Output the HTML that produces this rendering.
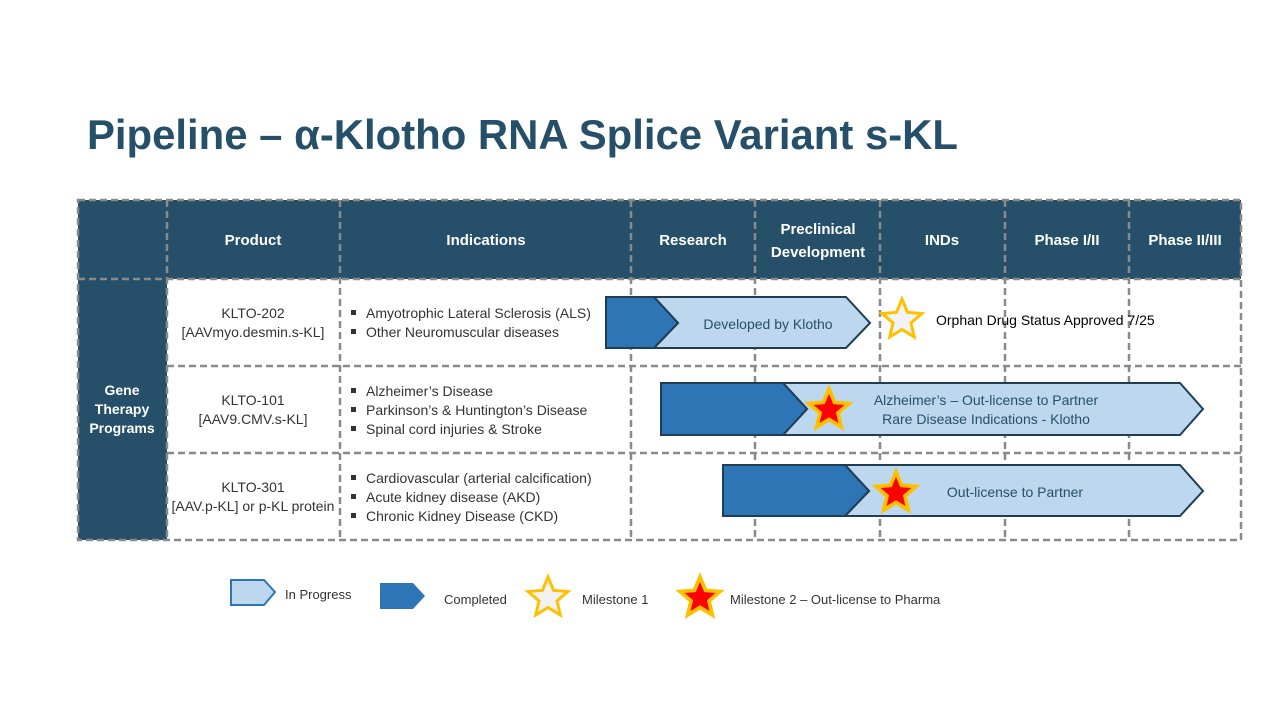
<!DOCTYPE html>
<html><head><meta charset="utf-8"><style>
html,body{margin:0;padding:0;background:#fff;}
svg{display:block;font-family:"Liberation Sans",sans-serif;}
</style></head><body>
<svg width="1280" height="720" viewBox="0 0 1280 720">
<defs>
<polygon id="st" points="0,-1 0.2645,-0.364 0.951,-0.309 0.428,0.139 0.588,0.809 0,0.45 -0.588,0.809 -0.428,0.139 -0.951,-0.309 -0.2645,-0.364"/>
</defs>
<text x="87" y="149" font-size="42" font-weight="bold" fill="#264f6a" textLength="871" lengthAdjust="spacingAndGlyphs">Pipeline – α-Klotho RNA Splice Variant s-KL</text>
<rect x="78" y="200" width="1163" height="79" fill="#264f6a"/>
<rect x="78" y="279" width="89" height="261" fill="#264f6a"/>
<g fill="#fff" font-weight="bold" font-size="15" text-anchor="middle">
<text x="253" y="245">Product</text>
<text x="486" y="245">Indications</text>
<text x="693" y="245">Research</text>
<text x="818" y="234">Preclinical</text>
<text x="818" y="257">Development</text>
<text x="942" y="245">INDs</text>
<text x="1067" y="245">Phase I/II</text>
<text x="1185" y="245">Phase II/III</text>
<text x="122" y="395" font-size="14">Gene</text>
<text x="122" y="414" font-size="14">Therapy</text>
<text x="122" y="433" font-size="14">Programs</text>
</g>
<g stroke="#8a8a8a" stroke-width="2.5" stroke-dasharray="7,4" fill="none">
<rect x="78" y="200" width="1163" height="340"/>
<line x1="78" y1="279" x2="1241" y2="279"/>
<line x1="167" y1="366" x2="1241" y2="366"/>
<line x1="167" y1="453" x2="1241" y2="453"/>
<line x1="167" y1="200" x2="167" y2="540"/>
<line x1="340" y1="200" x2="340" y2="540"/>
<line x1="631" y1="200" x2="631" y2="540"/>
<line x1="755" y1="200" x2="755" y2="540"/>
<line x1="880" y1="200" x2="880" y2="540"/>
<line x1="1005" y1="200" x2="1005" y2="540"/>
<line x1="1129" y1="200" x2="1129" y2="540"/>
</g>
<g font-size="14" fill="#333" text-anchor="middle">
<text x="253" y="318">KLTO-202</text>
<text x="253" y="337">[AAVmyo.desmin.s-KL]</text>
<text x="253" y="405">KLTO-101</text>
<text x="253" y="424">[AAV9.CMV.s-KL]</text>
<text x="253" y="492">KLTO-301</text>
<text x="253" y="511">[AAV.p-KL] or p-KL protein</text>
</g>
<g font-size="14" fill="#333">
<text x="366" y="318">Amyotrophic Lateral Sclerosis (ALS)</text>
<text x="366" y="337">Other Neuromuscular diseases</text>
<text x="366" y="396">Alzheimer’s Disease</text>
<text x="366" y="415">Parkinson’s &amp; Huntington’s Disease</text>
<text x="366" y="434">Spinal cord injuries &amp; Stroke</text>
<text x="366" y="483">Cardiovascular (arterial calcification)</text>
<text x="366" y="502">Acute kidney disease (AKD)</text>
<text x="366" y="521">Chronic Kidney Disease (CKD)</text>
</g>
<g fill="#333">
<rect x="351" y="310" width="5" height="5"/><rect x="351" y="329" width="5" height="5"/>
<rect x="351" y="388" width="5" height="5"/><rect x="351" y="407" width="5" height="5"/><rect x="351" y="426" width="5" height="5"/>
<rect x="351" y="475" width="5" height="5"/><rect x="351" y="494" width="5" height="5"/><rect x="351" y="513" width="5" height="5"/>
</g>
<g stroke="#1f3d55" stroke-width="2" stroke-linejoin="miter">
<polygon points="654,297 846,297 870,323 846,348 654,348 678,323" fill="#bdd7ee"/>
<polygon points="606,297 654,297 678,323 654,348 606,348" fill="#2e75b6"/>
<polygon points="783,383 1180,383 1203,409 1180,435 783,435 807,409" fill="#bdd7ee"/>
<polygon points="661,383 783,383 807,409 783,435 661,435" fill="#2e75b6"/>
<polygon points="845,465 1180,465 1203,491 1180,516 845,516 869,491" fill="#bdd7ee"/>
<polygon points="723,465 845,465 869,491 845,516 723,516" fill="#2e75b6"/>
</g>
<g font-size="14" fill="#264f6a" text-anchor="middle">
<text x="768" y="329">Developed by Klotho</text>
<text x="986" y="405">Alzheimer’s – Out-license to Partner</text>
<text x="986" y="424">Rare Disease Indications - Klotho</text>
<text x="1015" y="497">Out-license to Partner</text>
</g>
<text x="936" y="325" font-size="14" fill="#000">Orphan Drug Status Approved 7/25</text>
<use href="#st" transform="translate(902,320) scale(21)" fill="#f2f2f2" stroke="#ffc000" stroke-width="0.14"/>
<use href="#st" transform="translate(829,410) scale(21)" fill="#ff0000" stroke="#ffc000" stroke-width="0.18"/>
<use href="#st" transform="translate(896,493) scale(21)" fill="#ff0000" stroke="#ffc000" stroke-width="0.18"/>
<polygon points="231,580 264,580 275,592 264,605 231,605" fill="#bdd7ee" stroke="#2e75b6" stroke-width="2"/>
<text x="285" y="599" font-size="13" fill="#333">In Progress</text>
<polygon points="380,583 413,583 425,596 413,609 380,609" fill="#2e75b6"/>
<text x="444" y="604" font-size="13" fill="#333">Completed</text>
<use href="#st" transform="translate(548,598) scale(21)" fill="#f2f2f2" stroke="#ffc000" stroke-width="0.14"/>
<text x="582" y="604" font-size="13" fill="#333">Milestone 1</text>
<use href="#st" transform="translate(700,598) scale(21)" fill="#ff0000" stroke="#ffc000" stroke-width="0.18"/>
<text x="730" y="604" font-size="13" fill="#333">Milestone 2 – Out-license to Pharma</text>
</svg>
</body></html>
